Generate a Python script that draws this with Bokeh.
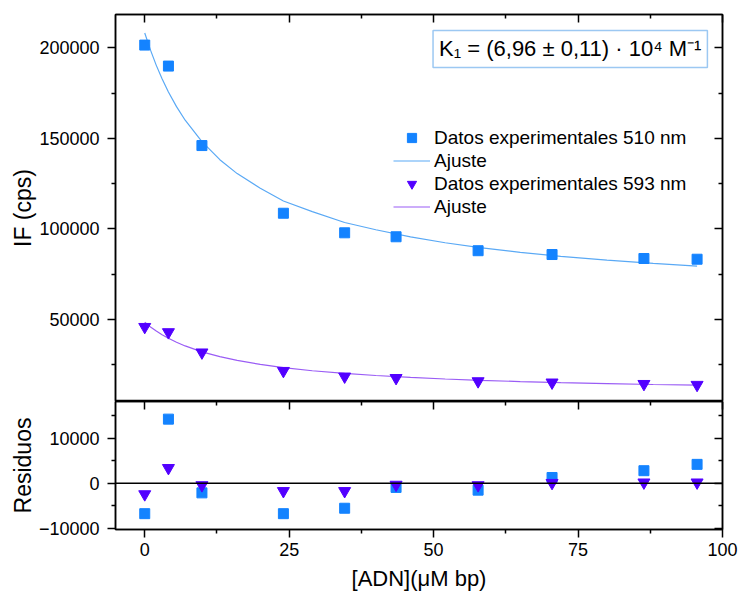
from bokeh.plotting import figure
from bokeh.models import (LinearAxis, FixedTicker, Span, Label, Legend, LegendItem,
                          Range1d, BasicTickFormatter)
from bokeh.layouts import column
from bokeh.embed import file_html
from bokeh.resources import INLINE

# ---- data ----
x_adn = [0, 4.1, 9.9, 24.0, 34.6, 43.5, 57.7, 70.5, 86.4, 95.6]
if_510 = [201600, 190000, 146100, 108700, 97900, 95700, 88000, 85900, 83700, 83300]
if_593 = [45900, 43000, 31800, 21600, 18500, 17700, 15900, 15200, 14400, 13900]
res_510 = [-6700, 14200, -2100, -6700, -5500, -900, -1500, 1300, 2800, 4200]
res_593 = [-2400, 3400, -400, -1700, -1700, -300, -400, 100, 200, 200]

fit_x = [0, 1, 2, 3, 4.1, 5.5, 7, 9.9, 13, 16, 20, 24, 29, 34.6, 40, 46, 52, 58,
         65, 72, 80, 88, 95.6]
fit_510 = [208300, 198800, 190400, 183000, 175700, 167600, 160100, 148300, 138300,
           130600, 122500, 115500, 109600, 103600, 99600, 95600, 92400, 89700,
           87100, 84900, 82800, 81000, 79500]
fit_593 = [48500, 45900, 43600, 41600, 39600, 37400, 35400, 32150, 29500, 27400,
           25200, 23400, 21700, 20200, 19050, 18000, 17140, 16400, 15700, 15100,
           14600, 14100, 13700]

x_ticks = [0, 25, 50, 75, 100]
x_minor = [12.5, 37.5, 62.5, 87.5]
if_ticks = [50000, 100000, 150000, 200000]
if_minor = [25000, 75000, 125000, 175000, 225000]
res_ticks = [-10000, 0, 10000]
res_minor = [-15000, -5000, 5000, 15000]

label_510 = "Datos experimentales 510 nm"
label_593 = "Datos experimentales 593 nm"
label_fit = "Ajuste"
k_text = "K\u2081 = (6,96 \u00b1 0,11) \u00b7 10\u2074 M\u207b\u00b9"

FONT = "Liberation Sans"
C_SQ = "#1483FF"
C_TRI = "#5200FF"
C_FIT1 = "#5AA9F5"
C_FIT2 = "#9A5CF5"


def style_axis(ax, ticks, minor, inward, labels=True, overrides=None):
    ax.ticker = FixedTicker(ticks=ticks, minor_ticks=minor)
    ax.formatter = BasicTickFormatter(use_scientific=False)
    ax.axis_line_color = "black"
    ax.axis_line_width = 1.5
    ax.major_tick_line_color = "black"
    ax.major_tick_line_width = 1.5
    ax.minor_tick_line_color = "black"
    ax.minor_tick_line_width = 1.5
    if inward:
        ax.major_tick_in, ax.major_tick_out = 8, 0
        ax.minor_tick_in, ax.minor_tick_out = 4, 0
    else:
        ax.major_tick_in, ax.major_tick_out = 0, 8
        ax.minor_tick_in, ax.minor_tick_out = 0, 4
    if labels:
        ax.major_label_text_font = FONT
        ax.major_label_text_font_size = "18px"
        ax.major_label_text_color = "black"
        ax.major_label_standoff = 8
        if overrides:
            ax.major_label_overrides = overrides
    else:
        ax.major_label_text_color = None
        ax.major_label_text_font_size = "1px"
        ax.major_label_standoff = 0
    ax.axis_label_text_font = FONT
    ax.axis_label_text_font_style = "normal"
    ax.axis_label_text_color = "black"


xr = Range1d(-5.06, 100)

# ---------- top panel ----------
p1 = figure(width=738, height=401, x_range=xr, y_range=Range1d(4700, 218500),
            output_backend="svg", toolbar_location=None, x_axis_location="above",
            min_border_left=115, min_border_right=16, min_border_top=14,
            min_border_bottom=0)
p1.grid.visible = False
p1.outline_line_color = "black"
p1.outline_line_width = 1.5
style_axis(p1.xaxis[0], x_ticks, x_minor, inward=True, labels=False)
style_axis(p1.yaxis[0], if_ticks, if_minor, inward=False)
p1.yaxis[0].axis_label = "IF (cps)"
p1.yaxis[0].axis_label_text_font_size = "23px"
p1.yaxis[0].axis_label_standoff = 0
r_ax = LinearAxis()
style_axis(r_ax, if_ticks, if_minor, inward=True, labels=False)
p1.add_layout(r_ax, "right")

l1 = p1.line(fit_x, fit_510, line_color=C_FIT1, line_width=1.2)
l2 = p1.line(fit_x, fit_593, line_color=C_FIT2, line_width=1.2)
s1 = p1.scatter(x_adn, if_510, marker="square", size=10, fill_color=C_SQ,
                line_color=C_SQ)
s2 = p1.scatter(x_adn, if_593, marker="inverted_triangle", size=12,
                fill_color=C_TRI, line_color=C_TRI)

legend = Legend(items=[LegendItem(label=label_510, renderers=[s1]),
                       LegendItem(label=label_fit, renderers=[l1]),
                       LegendItem(label=label_593, renderers=[s2]),
                       LegendItem(label=label_fit, renderers=[l2])],
                location=(278, 183), glyph_width=37, glyph_height=23,
                label_height=23, label_standoff=4, spacing=0, padding=0, margin=0,
                border_line_color=None, background_fill_alpha=0,
                label_text_font=FONT, label_text_font_size="19px",
                label_text_color="black")
p1.add_layout(legend)

k_label = Label(x=49.9, y=199500, text=k_text, text_font=FONT,
                text_font_size="22px", text_color="black", text_align="left",
                text_baseline="middle", border_line_color="#9CC8F2",
                border_line_width=1.5, background_fill_color="white", padding=6)
p1.add_layout(k_label)

# ---------- residuals panel ----------
p2 = figure(width=738, height=195, x_range=xr, y_range=Range1d(-10200, 18100),
            output_backend="svg", toolbar_location=None,
            min_border_left=115, min_border_right=16, min_border_top=0,
            min_border_bottom=67)
p2.grid.visible = False
p2.outline_line_color = "black"
p2.outline_line_width = 1.5
style_axis(p2.xaxis[0], x_ticks, x_minor, inward=False)
p2.xaxis[0].major_label_standoff = 5
p2.xaxis[0].axis_label = "[ADN](\u03bcM bp)"
p2.xaxis[0].axis_label_text_font_size = "22px"
p2.xaxis[0].axis_label_standoff = 7
style_axis(p2.yaxis[0], res_ticks, res_minor, inward=False,
           overrides={-10000: "\u221210000"})
p2.yaxis[0].axis_label = "Residuos"
p2.yaxis[0].axis_label_text_font_size = "23px"
p2.yaxis[0].axis_label_standoff = 0
t_ax = LinearAxis()
style_axis(t_ax, x_ticks, x_minor, inward=True, labels=False)
p2.add_layout(t_ax, "above")
r2_ax = LinearAxis()
style_axis(r2_ax, res_ticks, res_minor, inward=True, labels=False)
p2.add_layout(r2_ax, "right")

p2.add_layout(Span(location=0, dimension="width", line_color="black",
                   line_width=1.5))
p2.scatter(x_adn, res_510, marker="square", size=10, fill_color=C_SQ,
           line_color=C_SQ)
p2.scatter(x_adn, res_593, marker="inverted_triangle", size=12,
           fill_color=C_TRI, line_color=C_TRI)

layout = column(p1, p2, spacing=0)
open("out.html", "w").write(file_html(layout, INLINE))
